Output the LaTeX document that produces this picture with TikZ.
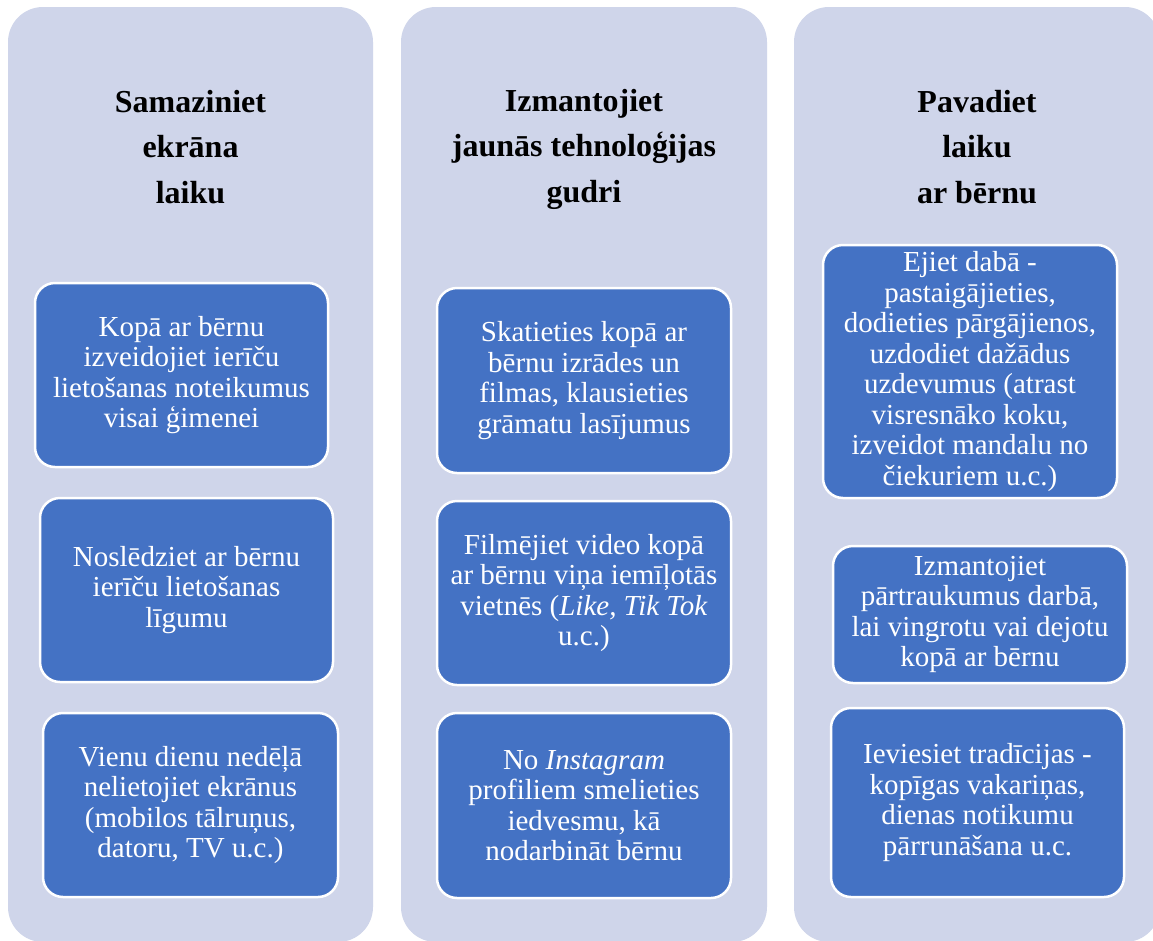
\documentclass[tikz,border=0pt]{standalone}
\usepackage{fontspec}
\setmainfont{Liberation Serif}
\definecolor{colbg}{HTML}{CFD5EA}
\definecolor{boxblue}{HTML}{4472C4}
\begin{document}
\begin{tikzpicture}[x=1pt,y=-1pt,
  colpanel/.style={fill=colbg, draw=none, rounded corners=35pt},
  coltitle/.style={align=center, font=\fontsize{32}{45.5}\selectfont\bfseries, text=black, inner sep=0pt},
  itembox/.style={rectangle, rounded corners=20pt, fill=boxblue, draw=white, line width=2.5pt,
    text=white, align=center, font=\fontsize{29}{30.5}\selectfont, inner sep=0pt}]
\useasboundingbox[fill=white] (0,0) rectangle (1153,940);
% column panels
\fill[colpanel] (8,7) rectangle (373,942);
\fill[colpanel] (401,7) rectangle (767,942);
\fill[colpanel] (794,7) rectangle (1160,942);
% titles
\node[coltitle] (t1) at (190.5,147) {Samaziniet\\ekrāna\\laiku};
\node[coltitle] (t2) at (584,149) {Izmantojiet\\jaunās tehnoloģijas\\gudri};
\node[coltitle] (t3) at (977,147) {Pavadiet\\laiku\\ar bērnu};
% column 1
\node[itembox, minimum width=293pt, minimum height=184pt] (a1) at (181.5,375)
  {Kopā ar bērnu\\izveidojiet ierīču\\lietošanas noteikumus\\visai ģimenei};
\node[itembox, minimum width=293pt, minimum height=184pt] (a2) at (186.5,590)
  {Noslēdziet ar bērnu\\ierīču lietošanas\\līgumu};
\node[itembox, minimum width=295pt, minimum height=184pt] (a3) at (190.5,805)
  {Vienu dienu nedēļā\\nelietojiet ekrānus\\(mobilos tālruņus,\\datoru, TV u.c.)};
% column 2
\node[itembox, minimum width=294pt, minimum height=185pt] (b1) at (584,380.5)
  {Skatieties kopā ar\\bērnu izrādes un\\filmas, klausieties\\grāmatu lasījumus};
\node[itembox, minimum width=294pt, minimum height=184pt] (b2) at (584,593)
  {Filmējiet video kopā\\ar bērnu viņa iemīļotās\\vietnēs (\textit{Like, Tik Tok}\\u.c.)};
\node[itembox, minimum width=294pt, minimum height=185pt] (b3) at (584,805.5)
  {No \textit{Instagram}\\profiliem smelieties\\iedvesmu, kā\\nodarbināt bērnu};
% column 3
\node[itembox, minimum width=294pt, minimum height=253pt] (c1) at (970,371.5)
  {Ejiet dabā -\\pastaigājieties,\\dodieties pārgājienos,\\uzdodiet dažādus\\uzdevumus (atrast\\visresnāko koku,\\izveidot mandalu no\\čiekuriem u.c.)};
\node[itembox, minimum width=294pt, minimum height=137pt] (c2) at (980,614.5)
  {Izmantojiet\\pārtraukumus darbā,\\lai vingrotu vai dejotu\\kopā ar bērnu};
\node[itembox, minimum width=293pt, minimum height=189pt] (c3) at (977.5,802.5)
  {Ieviesiet tradīcijas -\\kopīgas vakariņas,\\dienas notikumu\\pārrunāšana u.c.};
\end{tikzpicture}
\end{document}
